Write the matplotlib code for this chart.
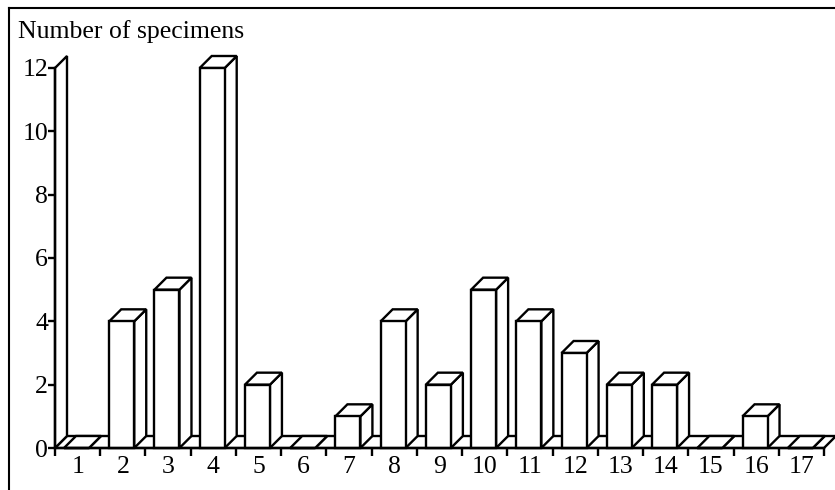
import matplotlib

matplotlib.use("Agg")

import matplotlib.pyplot as plt
from matplotlib.patches import Polygon, Rectangle

# specimens per class
classes = list(range(1, 18))
counts = [0, 4, 5, 12, 2, 0, 1, 4, 2, 5, 4, 3, 2, 2, 0, 1, 0]
y_ticks = [0, 2, 4, 6, 8, 10, 12]

plt.rcParams["font.family"] = ["Liberation Serif", "DejaVu Serif"]

W, H = 835, 490
fig = plt.figure(figsize=(W / 100, H / 100), dpi=100)

# pixel geometry
x0_px, x17_px = 55, 824
y0_px, y12_px = 448, 68
sx = (x17_px - x0_px) / 17.0
sy = (y0_px - y12_px) / 12.0

ax = fig.add_axes([0, 0, 1, 1])
ax.set_xlim(-x0_px / sx, (W - x0_px) / sx)
ax.set_ylim(-(H - y0_px) / sy, y0_px / sy)

dx = 12 / sx
dy = 12 / sy
lw = 1.7
fs = 18.5

# floor
floor = Polygon([(0, 0), (17, 0), (17 + dx, dy), (dx, dy)],
                closed=True, facecolor="white", edgecolor="black", lw=lw, zorder=2)
ax.add_patch(floor)

# left wall
wall = Polygon([(0, 0), (0, 12), (dx, 12 + dy), (dx, dy)],
               closed=True, facecolor="white", edgecolor="black", lw=lw, zorder=2)
ax.add_patch(wall)

bar_off = 9 / sx
bar_w = 25 / sx

for i, v in enumerate(counts):
    left = i + bar_off
    right = left + bar_w
    side = Polygon([(right, 0), (right + dx, dy), (right + dx, v + dy), (right, v)],
                   closed=True, facecolor="white", edgecolor="black", lw=lw, zorder=3)
    top = Polygon([(left, v), (right, v), (right + dx, v + dy), (left + dx, v + dy)],
                  closed=True, facecolor="white", edgecolor="black", lw=lw, zorder=3)
    front = Rectangle((left, 0), bar_w, v, facecolor="white",
                      edgecolor="black", lw=lw, zorder=4)
    ax.add_patch(side)
    ax.add_patch(top)
    ax.add_patch(front)

for s in ["top", "right"]:
    ax.spines[s].set_visible(False)
ax.spines["left"].set_position(("data", 0))
ax.spines["bottom"].set_position(("data", 0))
ax.spines["left"].set_bounds(0, 12)
ax.spines["bottom"].set_bounds(0, 17)
ax.spines["left"].set_linewidth(lw)
ax.spines["bottom"].set_linewidth(lw)
ax.spines["left"].set_zorder(5)
ax.spines["bottom"].set_zorder(5)

ax.set_yticks(y_ticks)
ax.set_yticklabels([str(t) for t in y_ticks], fontsize=fs)
ax.tick_params(axis="y", direction="out", length=5, width=lw, pad=0)

ax.set_xticks(range(0, 18))
ax.set_xticklabels([])
ax.set_xticks([c - 0.5 for c in classes], minor=True)
ax.set_xticklabels([str(c) for c in classes], minor=True, fontsize=fs)
ax.tick_params(axis="x", which="major", direction="out", length=6, width=lw)
ax.tick_params(axis="x", which="minor", length=0, pad=6)

fig.text(18 / W, 1 - 38 / H, "Number of specimens", fontsize=fs,
         ha="left", va="baseline")

# frame around the picture (top and left edges only are visible)
fig.add_artist(plt.Line2D([9 / W, 1], [1 - 8 / H, 1 - 8 / H],
                          transform=fig.transFigure, color="black", lw=1.5))
fig.add_artist(plt.Line2D([9 / W, 9 / W], [0, 1 - 8 / H],
                          transform=fig.transFigure, color="black", lw=1.5))

fig.savefig("out.png", dpi=100)
